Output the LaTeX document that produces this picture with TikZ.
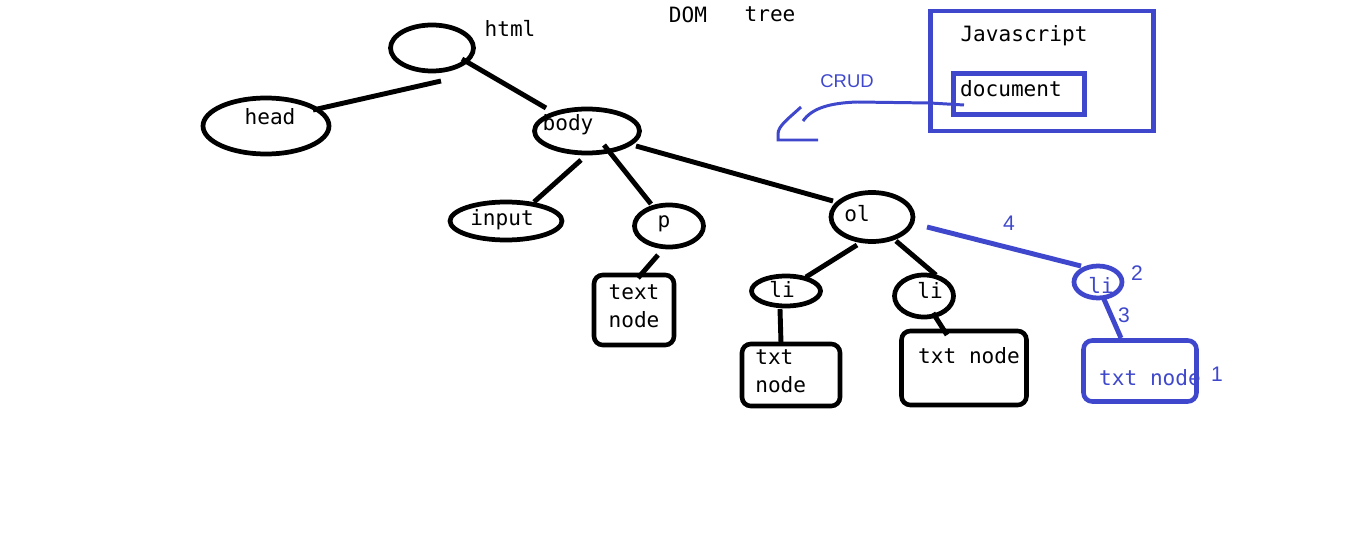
\documentclass[tikz,border=0pt]{standalone}
\usepackage{fontspec}
\setmonofont{DejaVu Sans Mono}
\setsansfont{Liberation Sans}
\usepackage{tikz}
\usetikzlibrary{shapes.geometric, calc}
\definecolor{paintblue}{HTML}{3F48CC}

\begin{document}
\begin{tikzpicture}[
    x=0.02cm, y=-0.02cm,
    oval/.style={ellipse, draw, line width=2.7pt, inner sep=0pt},
    tbox/.style={rectangle, draw, line width=2.6pt, rounded corners=5pt, inner sep=0pt},
    jsbox/.style={rectangle, draw=paintblue, line width=2.8pt, inner sep=0pt},
    tline/.style={line width=2.8pt},
    crudline/.style={line width=1.7pt, paintblue},
    lbl/.style={font=\fontsize{12}{16}\selectfont\ttfamily, inner sep=0pt, anchor=base},
    num/.style={font=\fontsize{12}{14}\selectfont\sffamily, text=paintblue, inner sep=0pt, anchor=base},
  ]
  \useasboundingbox (0,0) rectangle (1349,544);

  \node[oval, minimum width=1.66cm, minimum height=0.92cm] (html) at (432,48) {};
  \node[oval, minimum width=2.52cm, minimum height=1.12cm] (head) at (266,126) {};
  \node[oval, minimum width=2.10cm, minimum height=0.88cm] (body) at (587,131) {};
  \node[oval, minimum width=2.24cm, minimum height=0.76cm] (input) at (506,221) {};
  \node[oval, minimum width=1.38cm, minimum height=0.84cm] (p) at (669,226) {};
  \node[oval, minimum width=1.64cm, minimum height=0.98cm] (ol) at (872,217) {};
  \node[oval, minimum width=1.38cm, minimum height=0.60cm] (lione) at (786,291) {};
  \node[oval, minimum width=1.18cm, minimum height=0.84cm] (litwo) at (924,296) {};
  \node[oval, draw=paintblue, minimum width=0.96cm, minimum height=0.64cm] (lithree) at (1098,282) {};

  \node[tbox, minimum width=1.60cm, minimum height=1.40cm] (ptxt) at (634,310) {};
  \node[tbox, minimum width=1.96cm, minimum height=1.24cm] (txtone) at (791,375) {};
  \node[tbox, minimum width=2.50cm, minimum height=1.48cm] (txttwo) at (964,368) {};
  \node[tbox, draw=paintblue, minimum width=2.26cm, minimum height=1.22cm] (txtthree) at (1140,371) {};
  \node[jsbox, minimum width=4.46cm, minimum height=2.40cm] (js) at (1042,71) {};
  \node[jsbox, minimum width=2.62cm, minimum height=0.82cm] (doc) at (1019,94) {};

  \node[lbl] (htmllbl) at (510,37) {html};
  \node[lbl] (headlbl) at (270,125) {head};
  \node[lbl] (bodylbl) at (568,131) {body};
  \node[lbl] (inputlbl) at (502,225) {input};
  \node[lbl] (plbl) at (664,227) {p};
  \node[lbl] (ollbl) at (857,221) {ol};
  \node[lbl] (lionelbl) at (782,297) {li};
  \node[lbl] (litwolbl) at (930,298) {li};
  \node[lbl, text=paintblue] (lithreelbl) at (1101,293) {li};
  \node[lbl, align=center, anchor=center] (ptxtlbl) at (634,306) {text\\node};
  \node[lbl, align=left, anchor=west] (txtonelbl) at (755,371) {txt\\node};
  \node[lbl] (txttwolbl) at (969,363) {txt node};
  \node[lbl, text=paintblue] (txtthreelbl) at (1150,385) {txt node};
  \node[lbl] (domlbl) at (688,23) {DOM};
  \node[lbl] (treelbl) at (770,22) {tree};
  \node[lbl] (jslbl) at (1024,42) {Javascript};
  \node[lbl] (doclbl) at (1011,97) {document};

  \node[num, font=\fontsize{10.5}{12}\selectfont\sffamily] (crud) at (847,88) {CRUD};
  \node[num] (nfour) at (1009,230) {4};
  \node[num] (ntwo) at (1137,280) {2};
  \node[num] (nthree) at (1124,322) {3};
  \node[num] (none) at (1217,381) {1};

  \draw[tline] ([shift={(9,33)}]html.center) -- ([shift={(47,-16)}]head.center);
  \draw[tline] ([shift={(30,11)}]html.center) -- ([shift={(-41,-23)}]body.center);
  \draw[tline] ([shift={(-6,29)}]body.center) -- ([shift={(28,-19)}]input.center);
  \draw[tline] ([shift={(17,14)}]body.center) -- ([shift={(-18,-22)}]p.center);
  \draw[tline] ([shift={(49,15)}]body.center) -- ([shift={(-39,-16)}]ol.center);
  \draw[tline] ([shift={(-11,29)}]p.center) -- ([shift={(4,-32)}]ptxt.center);
  \draw[tline] ([shift={(-15,28)}]ol.center) -- ([shift={(20,-14)}]lione.center);
  \draw[tline] ([shift={(24,24)}]ol.center) -- ([shift={(12,-21)}]litwo.center);
  \draw[tline] ([shift={(-6,18)}]lione.center) -- ([shift={(-10,-32)}]txtone.center);
  \draw[tline] ([shift={(9,17)}]litwo.center) -- ([shift={(-17,-33)}]txttwo.center);
  \draw[tline, paintblue] ([shift={(55,10)}]ol.center) -- ([shift={(-17,-16)}]lithree.center);
  \draw[tline, paintblue] ([shift={(5,15)}]lithree.center) -- ([shift={(-19,-33)}]txtthree.center);

  \coordinate (crudtip) at (803,121);
  \draw[crudline] ([shift={(-55,11)}]doc.center) -- (930,103) -- (857,102) .. controls (830,103) and (812,108) .. (crudtip);
  \draw[crudline] (801,107) .. controls (788,119) and (778,126) .. (778,134) -- (778,140) -- (818,140);
\end{tikzpicture}
\end{document}
